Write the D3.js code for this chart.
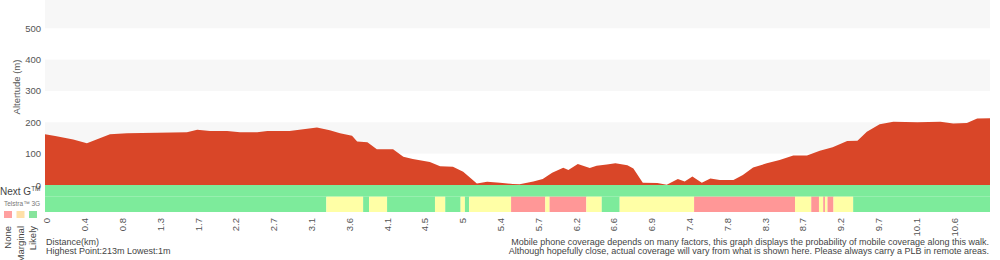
<!DOCTYPE html>
<html>

<head>
    <meta charset="utf-8">
    <style>
        body {
            margin: 0;
            background: white;
        }

        svg {
            font-family: 'Liberation Sans', Arial, Helvetica, sans-serif;
            display: block;
        }

        .axis text {
            fill: #555;
            font-size: 9.5px;
        }

        .axis path {
            display: none;
        }

        .note {
            fill: #444;
            font-size: 9px;
        }
    </style>
</head>

<body>
    <svg width="1000" height="260"></svg>

    <script src="https://d3js.org/d3.v7.min.js"></script>
    <script>
        // distance labels shown under the chart (evenly spaced along the walk)
        let xTickLabels = ["0", "0.4", "0.8", "1.3", "1.7", "2.2", "2.7", "3.1", "3.6", "4.1", "4.5", "5",
            "5.4", "5.7", "6.2", "6.6", "6.9", "7.4", "7.8", "8.3", "8.7", "9.2", "9.7", "10.1", "10.6"];
        let yTicks = [0, 100, 200, 300, 400, 500];
        let totalKm = 11.05;

        // elevation profile, km along walk / metres
        let profileKm = [0, 0.12, 0.33, 0.49, 0.64, 0.76, 0.96, 1.31, 1.66, 1.78, 1.93, 2.13, 2.28, 2.48, 2.60,
            2.86, 3.02, 3.18, 3.33, 3.45, 3.59, 3.65, 3.77, 3.88, 4.07, 4.19, 4.30, 4.50, 4.62, 4.77, 4.89,
            5.05, 5.17, 5.32, 5.47, 5.55, 5.71, 5.82, 5.93, 6.06, 6.12, 6.23, 6.37, 6.45, 6.57, 6.67, 6.81,
            6.88, 6.99, 7.16, 7.27, 7.40, 7.48, 7.57, 7.68, 7.78, 7.89, 8.05, 8.16, 8.28, 8.44, 8.59, 8.75,
            8.91, 9.06, 9.21, 9.38, 9.50, 9.61, 9.76, 9.92, 10.20, 10.47, 10.62, 10.78, 10.90, 11.05];
        let profileElev = [162, 156, 145, 133, 149, 162, 165, 167, 168, 176, 172, 172, 168, 168, 172,
            172, 178, 183, 175, 165, 157, 139, 136, 114, 114, 90, 83, 73, 60, 58, 42,
            5, 10, 7, 3, 2, 11, 19, 39, 55, 48, 67, 54, 61, 65, 69, 63,
            53, 7, 6, 1, 19, 11, 27, 7, 21, 16, 16, 32, 56, 69, 80, 94,
            94, 109, 120, 140, 141, 170, 194, 202, 200, 202, 196, 198, 212, 213];

        // coverage segments: start km and level, each runs to the next start
        let levels = ["None", "Marginal", "Likely"];
        let nextGStart = [0];
        let nextGLevel = ["Likely"];
        let telstra3GStart = [0, 3.29, 3.72, 3.79, 4.00, 4.56, 4.68, 4.86, 4.91, 4.96, 5.45, 5.85, 5.90,
            6.33, 6.51, 6.72, 7.59, 8.77, 8.96, 9.05, 9.10, 9.12, 9.15, 9.22, 9.45];
        let telstra3GLevel = ["Likely", "Marginal", "Likely", "Marginal", "Likely", "Marginal", "Likely",
            "Marginal", "Likely", "Marginal", "None", "Marginal", "None", "Marginal", "Likely", "Marginal",
            "None", "Marginal", "None", "Marginal", "None", "Marginal", "None", "Marginal", "Likely"];

        let svg = d3.select("svg");

        let x = d3.scaleLinear().domain([0, totalKm]).range([45, 990]);
        let y = d3.scaleLinear().domain([0, 590]).range([185, 0]);

        let covColor = d3.scaleOrdinal().domain(levels).range(["#ff9797", "#ffffa6", "#7deb9b"]);
        let legendColor = d3.scaleOrdinal().domain(levels).range(["#ffa0a0", "#ffe0a8", "#86e49c"]);

        // alternating grey bands behind the profile
        let bands = [[100, 200], [300, 400], [500, 590]];
        svg.append("g")
            .selectAll("rect")
            .data(bands)
            .join("rect")
            .attr("x", x(0))
            .attr("width", x(totalKm) - x(0))
            .attr("y", d => y(d[1]))
            .attr("height", d => y(d[0]) - y(d[1]))
            .attr("fill", "#f7f7f7");

        let area = d3.area()
            .x((d, i) => x(profileKm[i]))
            .y0(y(0))
            .y1(d => y(d));

        svg.append("path")
            .datum(profileElev)
            .attr("d", area)
            .attr("fill", "#d94628");

        // coverage strips
        function segments(starts, lvls) {
            return starts.map((s, i) => ({
                start: s,
                end: i < starts.length - 1 ? starts[i + 1] : totalKm,
                level: lvls[i]
            }));
        }

        let rows = [
            { top: 185, height: 11.7, segs: segments(nextGStart, nextGLevel) },
            { top: 196.7, height: 15.3, segs: segments(telstra3GStart, telstra3GLevel) }
        ];

        rows.forEach(row => {
            svg.append("g")
                .selectAll("rect")
                .data(row.segs)
                .join("rect")
                .attr("x", d => x(d.start))
                .attr("width", d => x(d.end) - x(d.start))
                .attr("y", row.top)
                .attr("height", row.height)
                .attr("fill", d => covColor(d.level));
        });

        // y axis
        svg.append("g")
            .attr("class", "axis")
            .attr("transform", "translate(45,0)")
            .call(d3.axisLeft(y).tickValues(yTicks).tickSize(0).tickPadding(4));

        svg.append("text")
            .attr("transform", "translate(20,87) rotate(-90)")
            .attr("text-anchor", "middle")
            .attr("fill", "#555")
            .style("font-size", "9.5px")
            .text("Altertude (m)");

        // x axis, labels rotated
        let step = totalKm / 25;
        let xAxis = svg.append("g")
            .attr("class", "axis")
            .attr("transform", "translate(0,212)")
            .call(d3.axisBottom(x)
                .tickValues(xTickLabels.map((l, i) => i * step))
                .tickSize(0)
                .tickFormat((d, i) => xTickLabels[i]));

        xAxis.selectAll("text")
            .attr("transform", "rotate(-90)")
            .attr("text-anchor", "end")
            .attr("x", -6)
            .attr("y", 0)
            .attr("dy", "0.52em");

        // row labels and legend
        let nextG = svg.append("text")
            .attr("x", 0)
            .attr("y", 194.5)
            .attr("fill", "#444")
            .style("font-size", "10px")
            .text("Next G");
        nextG.append("tspan")
            .attr("dy", -4)
            .style("font-size", "6.5px")
            .text("TM");

        svg.append("text")
            .attr("x", 4)
            .attr("y", 206)
            .attr("fill", "#777")
            .style("font-size", "6.5px")
            .text("Telstra™ 3G");

        let legend = svg.append("g")
            .selectAll("g")
            .data(levels)
            .join("g")
            .attr("transform", (d, i) => "translate(" + (8 + i * 12.5) + ",0)");

        legend.append("rect")
            .attr("x", -4)
            .attr("y", 211)
            .attr("width", 8)
            .attr("height", 7)
            .attr("fill", d => legendColor(d));

        legend.append("text")
            .attr("transform", "translate(0,226) rotate(-90)")
            .attr("text-anchor", "end")
            .attr("dy", "0.35em")
            .attr("fill", "#444")
            .style("font-size", "9.5px")
            .text(d => d);

        // notes
        svg.append("text")
            .attr("class", "note")
            .attr("x", 46)
            .attr("y", 245)
            .text("Distance(km)");

        svg.append("text")
            .attr("class", "note")
            .attr("x", 46)
            .attr("y", 254)
            .text("Highest Point:213m Lowest:1m");

        let notes = ["Mobile phone coverage depends on many factors, this graph displays the probability of mobile coverage along this walk.",
            "Although hopefully close, actual coverage will vary from what is shown here. Please always carry a PLB in remote areas."];

        svg.append("g")
            .selectAll("text")
            .data(notes)
            .join("text")
            .attr("class", "note")
            .attr("x", 989)
            .attr("y", (d, i) => 244.5 + i * 9)
            .attr("text-anchor", "end")
            .text(d => d);
    </script>
</body>

</html>
